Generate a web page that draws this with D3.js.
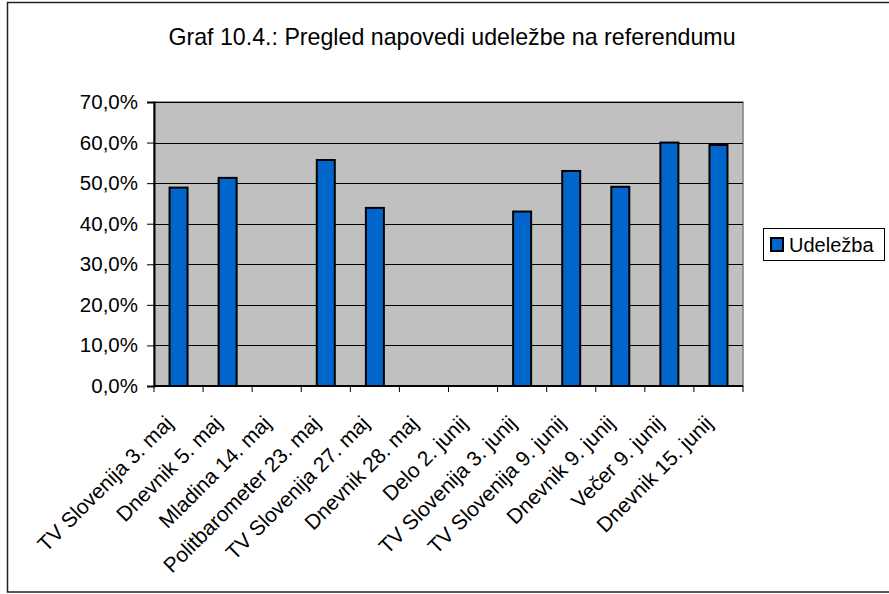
<!DOCTYPE html>
<html>
<head>
<meta charset="utf-8">
<script src="https://cdn.jsdelivr.net/npm/d3@7"></script>
<style>
  body { margin: 0; background: #fff; }
  svg { display: block; font-family: "Liberation Sans", Arial, sans-serif; }
</style>
</head>
<body>
<div id="app"></div>
<script>
const categories = [
  "TV Slovenija 3. maj", "Dnevnik 5. maj", "Mladina 14. maj", "Politbarometer 23. maj",
  "TV Slovenija 27. maj", "Dnevnik 28. maj", "Delo 2. junij", "TV Slovenija 3. junij",
  "TV Slovenija 9. junij", "Dnevnik 9. junij", "Večer 9. junij", "Dnevnik 15. junij"
];
const turnout = [0.489, 0.513, null, 0.557, 0.439, null, null, 0.430, 0.530, 0.491, 0.600, 0.594];
const yTicks = [0, 0.1, 0.2, 0.3, 0.4, 0.5, 0.6, 0.7];
const seriesName = "Udeležba";
const title = "Graf 10.4.: Pregled napovedi udeležbe na referendumu";

const width = 889, height = 594;
const plot = { left: 154, right: 743, top: 102, bottom: 386 };

const svg = d3.select("#app").append("svg")
  .attr("width", width)
  .attr("height", height);

// outer chart border
svg.append("rect")
  .attr("x", 7.5).attr("y", 2.5)
  .attr("width", width + 10).attr("height", 589.5)
  .attr("fill", "#fff")
  .attr("stroke", "#222")
  .attr("stroke-width", 1.5);

svg.append("text")
  .attr("x", 452).attr("y", 45)
  .attr("text-anchor", "middle")
  .style("font-size", "23.2px")
  .text(title);

const x = d3.scaleBand().domain(categories).range([plot.left, plot.right]).paddingInner(0).paddingOuter(0);
const y = d3.scaleLinear().domain([0, 0.7]).range([plot.bottom, plot.top]);

// plot area
svg.append("rect")
  .attr("x", plot.left).attr("y", plot.top)
  .attr("width", plot.right - plot.left).attr("height", plot.bottom - plot.top)
  .attr("fill", "#c0c0c0")
  .attr("stroke", "#808080")
  .attr("stroke-width", 1.5);

// gridlines
svg.append("g")
  .selectAll("line")
  .data(yTicks.slice(1))
  .join("line")
  .attr("x1", plot.left).attr("x2", plot.right)
  .attr("y1", d => Math.round(y(d)) + 0.5).attr("y2", d => Math.round(y(d)) + 0.5)
  .attr("stroke", "#000")
  .attr("stroke-width", 1);

// bars
const barW = 20;
svg.append("g")
  .selectAll("rect")
  .data(categories.map((c, i) => ({ c, v: turnout[i] })).filter(d => d.v != null))
  .join("rect")
  .attr("x", d => x(d.c) + x.bandwidth() / 2 - barW / 2 + 1)
  .attr("y", d => y(d.v))
  .attr("width", barW - 2)
  .attr("height", d => y(0) - y(d.v))
  .attr("fill", "#0066cc")
  .attr("stroke", "#000")
  .attr("stroke-width", 2);

// y axis
const yAxis = d3.axisLeft(y)
  .tickValues(yTicks)
  .tickSize(7)
  .tickPadding(9)
  .tickFormat(d => d3.format(".1f")(d * 100).replace(".", ",") + "%");
svg.append("g")
  .attr("transform", `translate(${plot.left},0)`)
  .call(yAxis)
  .call(g => g.select(".domain").attr("stroke-width", 2))
  .call(g => g.selectAll(".tick text").style("font-size", "20.5px").attr("fill", "#000"));

// x axis with ticks at band edges
const xAxisG = svg.append("g").attr("transform", `translate(0,${plot.bottom})`);
xAxisG.append("line")
  .attr("x1", plot.left).attr("x2", plot.right)
  .attr("stroke", "#000").attr("stroke-width", 2);
xAxisG.selectAll("line.tk")
  .data(categories.map(c => x(c)).concat([plot.right]))
  .join("line")
  .attr("class", "tk")
  .attr("x1", d => d).attr("x2", d => d)
  .attr("y1", 0).attr("y2", 6)
  .attr("stroke", "#000");
xAxisG.selectAll("text")
  .data(categories)
  .join("text")
  .attr("transform", d => `translate(${x(d) + x.bandwidth() / 2 - 15},28) rotate(-45)`)
  .attr("text-anchor", "end")
  .attr("dy", "0.72em")
  .style("font-size", "21px")
  .text(d => d);

// legend
const legend = svg.append("g").attr("transform", "translate(763,228)");
legend.append("rect")
  .attr("x", 0.5).attr("y", 0.5)
  .attr("width", 121).attr("height", 32)
  .attr("fill", "#fff").attr("stroke", "#000");
legend.append("rect")
  .attr("x", 8).attr("y", 10)
  .attr("width", 12).attr("height", 13)
  .attr("fill", "#0066cc").attr("stroke", "#000").attr("stroke-width", 2);
legend.append("text")
  .attr("x", 26).attr("y", 24)
  .style("font-size", "20px")
  .text(seriesName);
</script>
</body>
</html>
